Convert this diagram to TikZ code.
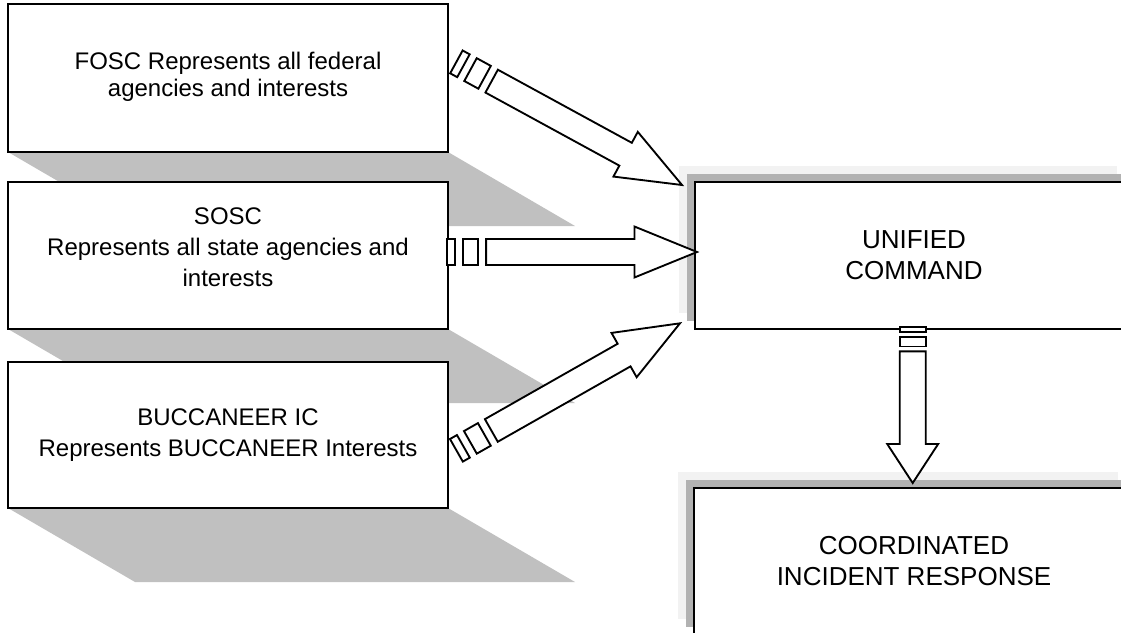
\documentclass[tikz,border=0pt]{standalone}
\usepackage{fontspec}
\setmainfont{Liberation Sans}
\usetikzlibrary{calc,backgrounds}

\definecolor{dropgray}{RGB}{192,192,192}
\definecolor{bandgray}{RGB}{178,178,178}
\definecolor{halogray}{RGB}{242,242,242}

\tikzset{
  box/.style={draw=black, line width=1.4pt, fill=white, rectangle,
    inner sep=0pt, outer sep=0pt, anchor=north west},
  sidetext/.style={align=center, inner sep=0pt, font=\fontsize{18}{23.25}\selectfont},
  tighttext/.style={align=center, inner sep=0pt, font=\fontsize{18}{20.25}\selectfont},
  maintext/.style={align=center, inner sep=0pt, font=\fontsize{19.5}{23.25}\selectfont},
  drop/.style={fill=dropgray, draw=none},
  band/.style={fill=bandgray, draw=none},
  halo/.style={fill=halogray, draw=none},
  blockarrow/.style={draw=black, line width=1.4pt, fill=white, line join=miter},
}

% Striped block arrow from tail coordinate #1 to tip coordinate #2
\newcommand\stripedarrow[2]{%
  \path (#1); \pgfgetlastxy\arrax\array
  \path (#2); \pgfgetlastxy\arrbx\arrby
  \pgfmathsetmacro\arrang{atan2(\arrby-\array,\arrbx-\arrax)}%
  \pgfmathsetmacro\arrlen{veclen(\arrbx-\arrax,\arrby-\array)}%
  \begin{scope}[shift={(#1)}, rotate=\arrang, x=1pt, y=1pt]
    \draw[blockarrow] (0,-9.75) rectangle ({\arrlen/32},9.75);
    \draw[blockarrow] ({\arrlen/16},-9.75) rectangle ({\arrlen/8},9.75);
    \draw[blockarrow] ({5*\arrlen/32},-9.75) -- ({0.75*\arrlen},-9.75)
      -- ({0.75*\arrlen},-19.1) -- (\arrlen,0) -- ({0.75*\arrlen},19.1)
      -- ({0.75*\arrlen},9.75) -- ({5*\arrlen/32},9.75) -- cycle;
  \end{scope}}

\begin{document}
\begin{tikzpicture}[x=0.75pt,y=-0.75pt]
\useasboundingbox (0,0) rectangle (1121,632);
\clip (0,0) rectangle (1121,632);

% source boxes
\node[box, minimum width=330pt, minimum height=111pt]    (fosc) at (8,4) {};
\node[box, minimum width=330pt, minimum height=110.25pt] (sosc) at (8,182) {};
\node[box, minimum width=330pt, minimum height=109.5pt]  (bucc) at (8,362) {};

% command and response boxes
\node[box, minimum width=328.5pt, minimum height=110.25pt] (unified) at (695,182) {};
\node[box, minimum width=330pt, minimum height=110.25pt]   (coord) at (694,488) {};

% box texts
\node[tighttext, yshift=1pt] (fosc-t) at (fosc.center) {FOSC Represents all federal\\agencies and interests};
\node[sidetext, yshift=6pt] (sosc-t) at (sosc.center) {SOSC\\Represents all state agencies and\\interests};
\node[sidetext] (bucc-t) at (bucc.center) {BUCCANEER IC\\Represents BUCCANEER Interests};
\node[maintext] (unified-t) at (unified.center) {UNIFIED\\COMMAND};
\node[maintext] (coord-t) at (coord.center) {COORDINATED\\INCIDENT RESPONSE};

% shadows
\begin{scope}[on background layer]
  \foreach \b in {fosc,sosc,bucc}
    \fill[drop] (\b.south west) -- (\b.south east) -- ++(127,74) -- ++(-440,0) -- cycle;
  \foreach \b in {unified,coord}{
    \fill[halo] ($(\b.north west)+(-16,-16)$) rectangle ($(\b.south east)+(-16,-16)$);
    \fill[band] ($(\b.north west)+(-8,-8)$) rectangle ($(\b.south east)+(-8,-8)$);
  }
\end{scope}

% arrow ends
\coordinate (a1) at ($(fosc.east)+(8.4,-16.1)$);
\coordinate (b1) at ($(unified.north west)+(-13,3)$);
\coordinate (a2) at ($(sosc.east)+(-1,-3.5)$);
\coordinate (b2) at ($(unified.west)+(2,-3.5)$);
\coordinate (a3) at ($(bucc.east)+(8.4,15.3)$);
\coordinate (b3) at ($(unified.south west)+(-15,-5.7)$);
\coordinate (a4) at ($(unified.south)+(-1.3,-2)$);
\coordinate (b4) at ($(coord.north)+(-1.3,-5)$);

\stripedarrow{a1}{b1}
\stripedarrow{a2}{b2}
\stripedarrow{a3}{b3}
\stripedarrow{a4}{b4}
\end{tikzpicture}
\end{document}
